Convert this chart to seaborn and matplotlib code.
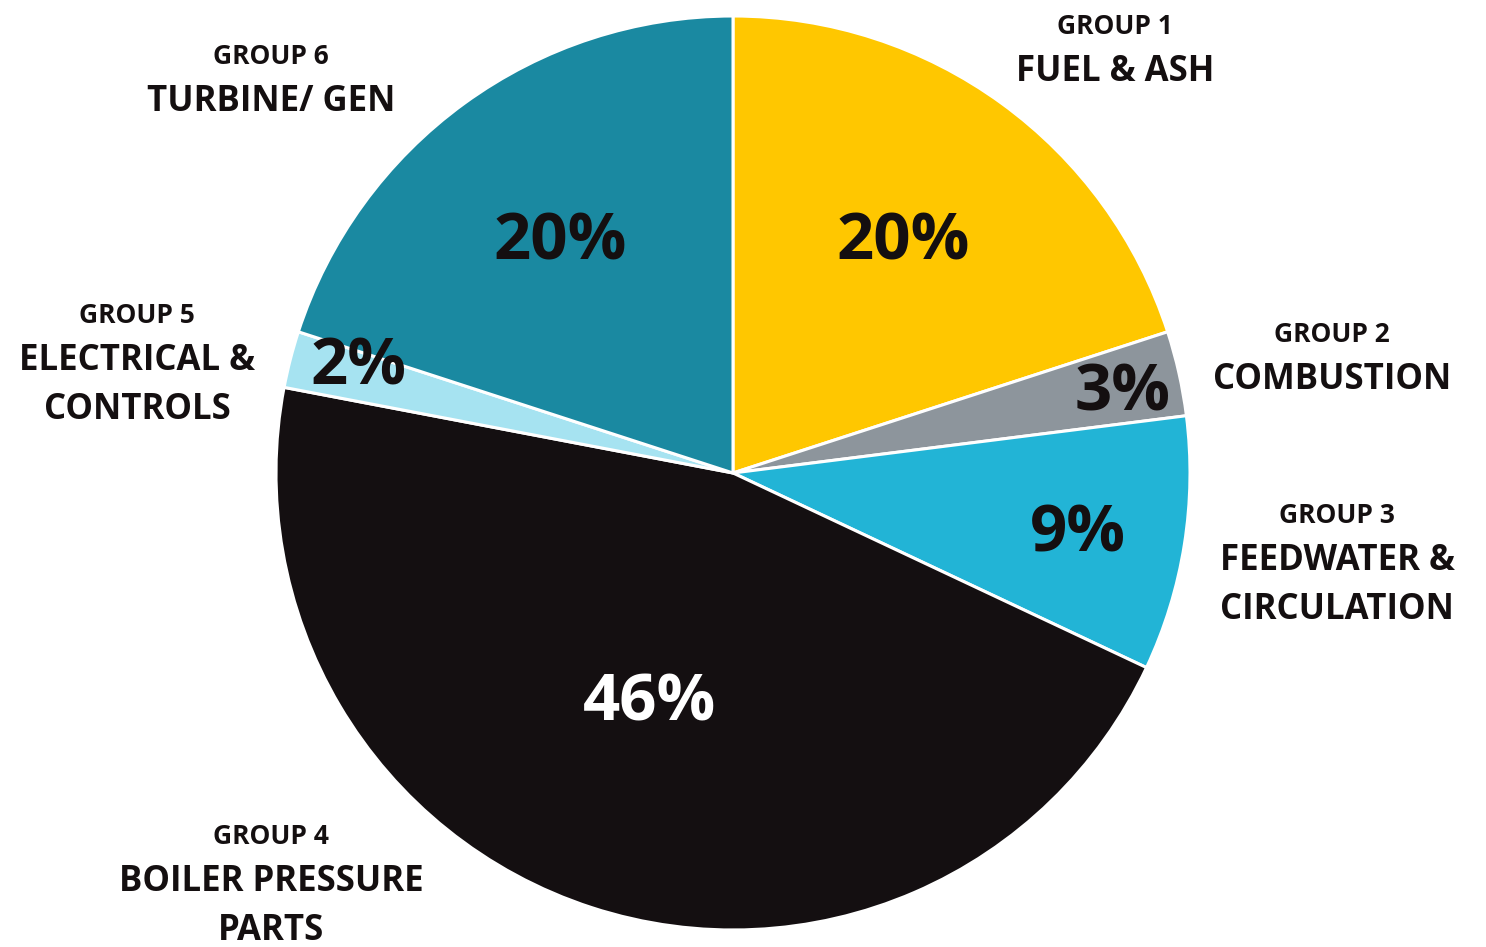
import matplotlib
matplotlib.use("Agg")
import matplotlib.pyplot as plt
import seaborn as sns
import numpy as np

# data
groups = ["GROUP 1", "GROUP 2", "GROUP 3", "GROUP 4", "GROUP 5", "GROUP 6"]
names = ["FUEL & ASH", "COMBUSTION", "FEEDWATER &\nCIRCULATION",
         "BOILER PRESSURE\nPARTS", "ELECTRICAL &\nCONTROLS", "TURBINE/ GEN"]
shares = [20, 3, 9, 46, 2, 20]
colors = ["#FFC700", "#8D959C", "#22B4D6", "#140F11", "#A6E3F1", "#1A89A1"]
pct_colors = ["#140F10", "#140F10", "#140F10", "white", "#140F10", "#140F10"]

sns.set_theme(style="white")
plt.rcParams['font.family'] = ['Open Sans', 'DejaVu Sans']
ink = "#140F10"

W, H = 1486, 947
fig = plt.figure(figsize=(W / 100, H / 100), dpi=100)
ax = fig.add_axes([0, 0, 1, 1])

cx, cy, r = 733, H - 473, 457
wedges, _ = ax.pie(shares, colors=colors, startangle=90, counterclock=False,
                   center=(cx, cy), radius=r, frame=True,
                   wedgeprops=dict(edgecolor="white", linewidth=2.2))
ax.set_xlim(0, W)
ax.set_ylim(0, H)
ax.set_aspect("equal")
ax.axis("off")

# percentage labels, placed along each wedge's mid angle (plus a small nudge in px)
pct_dist = [0.635, 0.87, 0.76, 0.52, 0.85, 0.635]
pct_nudge = [(0, -5), (2, -8), (2, -8), (-10, -5), (2, 8), (-2, -5)]
for w, v, d, (nx, ny), c in zip(wedges, shares, pct_dist, pct_nudge, pct_colors):
    mid = np.deg2rad((w.theta1 + w.theta2) / 2)
    ax.text(cx + d * r * np.cos(mid) + nx, cy + d * r * np.sin(mid) + ny, f"{v}%",
            ha="center", va="center", fontsize=47, fontweight="bold", color=c)

# category labels (x, y of the "GROUP n" line, in pixels from top-left)
label_pos = [(1115, 26), (1332, 334), (1337, 515), (271, 836), (137, 315), (271, 56)]
for (x, y), g, n in zip(label_pos, groups, names):
    ax.text(x, H - y, g, ha="center", va="center", fontsize=19,
            fontweight="bold", color=ink)
    for i, line in enumerate(n.split("\n")):
        ax.text(x, H - y - 46 - 49 * i, line, ha="center", va="center",
                fontsize=25, fontweight="bold", color=ink)

fig.savefig("out.png", dpi=100)
